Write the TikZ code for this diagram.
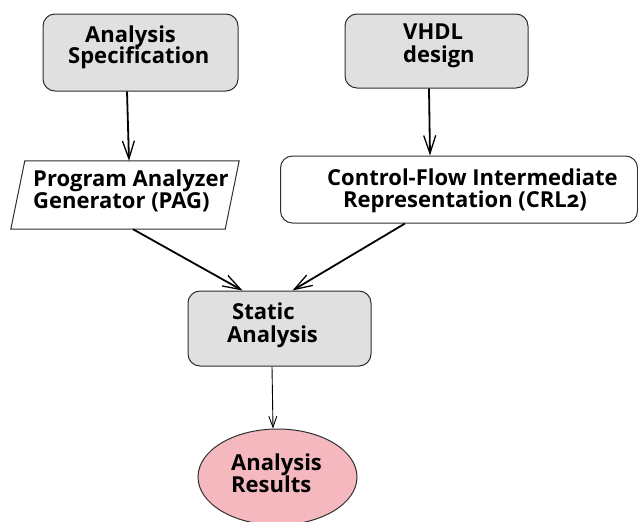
\documentclass[tikz,border=0pt]{standalone}
\usepackage{fontspec}
\setmainfont{Open Sans}[Numbers=OldStyle]
\usetikzlibrary{arrows.meta,shapes.geometric}
\definecolor{boxgray}{HTML}{E0E0E0}
\definecolor{resultpink}{HTML}{F4B8BE}
\definecolor{edge}{HTML}{303030}
\begin{document}
\begin{tikzpicture}[x=1pt,y=-1pt,
  box/.style={draw=edge, line width=1pt, rounded corners=12pt, inner sep=0pt},
  lbl/.style={anchor=base west, inner sep=0pt, font=\fontsize{22}{24}\selectfont\bfseries},
  flow/.style={line width=1.8pt, -{Straight Barb[length=18pt,width=12pt,line width=1.3pt]}},
  thinflow/.style={line width=0.9pt, -{Straight Barb[length=11pt,width=8pt,line width=0.9pt]}}
]
\useasboundingbox (0,0) rectangle (638,522);

% input boxes
\node[box, fill=boxgray, minimum width=195pt, minimum height=77pt] (spec) at (140.5,52.5) {};
\node[box, fill=boxgray, minimum width=183pt, minimum height=74pt] (vhdl) at (436.5,51) {};

% tools: the generator is a slanted parallelogram around a plain frame node
\node[inner sep=0pt, minimum width=214pt, minimum height=68pt] (pag) at (125,195) {};
\draw[edge, line width=1pt, fill=white]
  ([xshift=7pt]pag.north west) -- ([xshift=7pt]pag.north east)
  -- ([xshift=-7pt]pag.south east) -- ([xshift=-7pt]pag.south west) -- cycle;
\node[box, fill=white, minimum width=357pt, minimum height=67pt] (crl) at (459,189.5) {};

% analysis and result
\node[box, fill=boxgray, minimum width=183pt, minimum height=75pt] (sa) at (279.5,328.5) {};
\node[ellipse, draw=edge, line width=1pt, fill=resultpink, minimum width=159pt, minimum height=96pt, inner sep=0pt] (res) at (277.5,477) {};

% texts
\node[lbl] (spec1) at (85,42) {Analysis};
\node[lbl] (spec2) at (68,63) {Specification};
\node[lbl] (vhdl1) at (403,39) {VHDL};
\node[lbl] (vhdl2) at (403,62) {design};
\node[lbl] (pag1) at (33,186) {Program Analyzer};
\node[lbl] (pag2) at (33,208) {Generator (PAG)};
\node[lbl] (crl1) at (327,185) {Control-Flow Intermediate};
\node[lbl] (crl2) at (343,207) {Representation (CRL2)};
\node[lbl] (sa1) at (232,319) {Static};
\node[lbl] (sa2) at (227,342) {Analysis};
\node[lbl] (res1) at (231,470) {Analysis};
\node[lbl] (res2) at (231,492) {Results};

% connectors
\draw[flow] ([xshift=-13.5pt]spec.south) -- ([xshift=4pt]pag.north);
\draw[flow] ([xshift=-7.5pt]vhdl.south) -- ([xshift=-29pt]crl.north);
\draw[flow] ([xshift=8pt]pag.south) -- ([xshift=-37pt]sa.north);
\draw[flow] ([xshift=-54pt]crl.south) -- ([xshift=13pt]sa.north);
\draw[thinflow] ([xshift=-7.5pt]sa.south) -- ([xshift=-4.5pt]res.north);
\end{tikzpicture}
\end{document}
